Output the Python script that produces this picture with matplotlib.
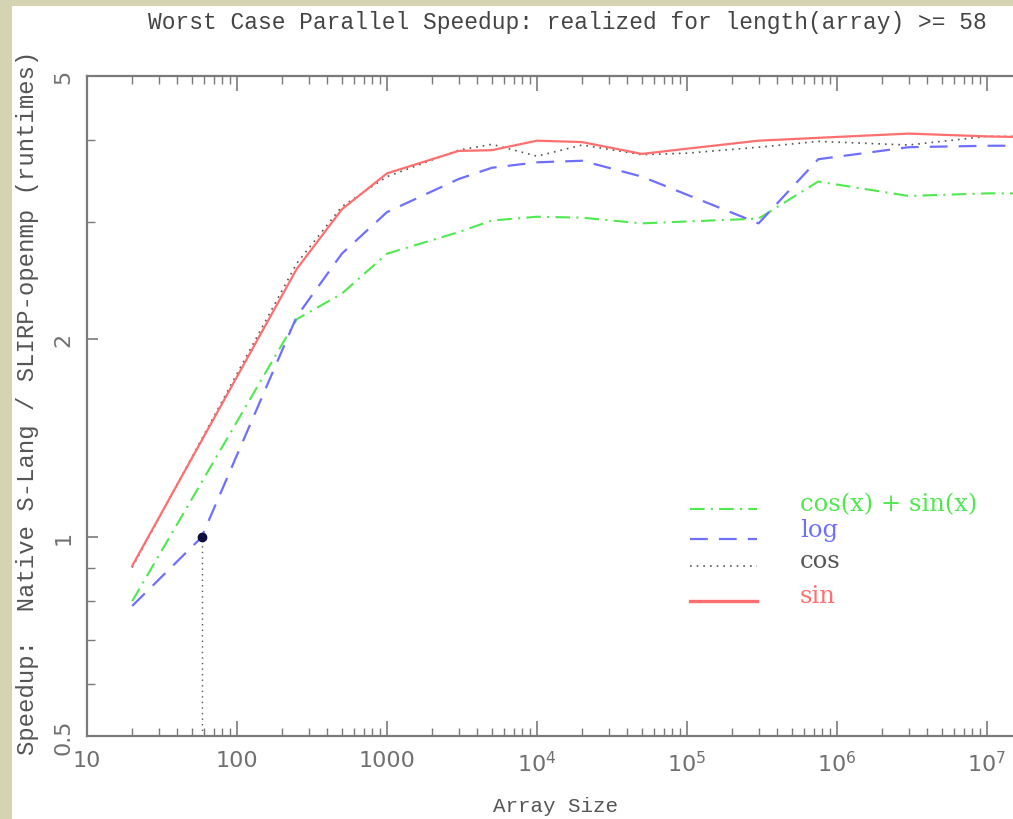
import matplotlib
matplotlib.use("Agg")
import math
import matplotlib.pyplot as plt
from matplotlib.patches import Rectangle
from matplotlib.lines import Line2D
from matplotlib.ticker import FixedLocator, NullFormatter, FuncFormatter

# ---------------- data ----------------
x_common = [20, 250, 500, 1000, 3000, 5000, 1e4, 2e4, 5e4, 1e5, 3e5, 7.5e5, 3e6, 1e7, 3e7]
sin_vals = [0.905, 2.55, 3.14, 3.56, 3.85, 3.86, 3.99, 3.97, 3.81, 3.88, 3.99, 4.03, 4.09, 4.05, 4.03]
cos_vals = [0.90, 2.60, 3.17, 3.52, 3.86, 3.94, 3.78, 3.93, 3.80, 3.82, 3.90, 3.98, 3.93, 4.05, 4.05]
log_x = [20, 58, 250, 500, 1000, 3000, 5000, 1e4, 2e4, 5e4, 3e5, 7.5e5, 3e6, 1e7, 3e7]
log_vals = [0.787, 1.00, 2.16, 2.69, 3.11, 3.49, 3.63, 3.70, 3.72, 3.52, 2.99, 3.74, 3.90, 3.92, 3.92]
cs_vals = [0.80, 2.14, 2.34, 2.69, 2.90, 3.02, 3.06, 3.05, 2.99, 3.01, 3.04, 3.46, 3.29, 3.32, 3.32]

crossover_x = 58
crossover_y = 1.0

series_labels = ["cos(x) + sin(x)", "log", "cos", "sin"]
title = "Worst Case Parallel Speedup: realized for length(array) >= 58"
xlabel = "Array Size"
ylabel = "Speedup:  Native S-Lang / SLIRP-openmp (runtimes)"

y_major = [0.5, 1, 2, 5]
y_minor = [0.6, 0.7, 0.8, 0.9, 3, 4]

# ---------------- styles ----------------
C_RED = "#ff6f6f"
C_BLUE = "#6f6fff"
C_GREEN = "#4fe84f"
C_BLACK = "#555555"
C_AXIS = "#7a7a7a"
C_TICKLBL = "#707070"
MONO = ["Liberation Mono", "DejaVu Sans Mono"]
SERIF = ["DejaVu Serif", "Liberation Serif"]

W, H = 1013, 820
fig = plt.figure(figsize=(W / 100, H / 100), dpi=100, facecolor="#d4d3b2")
# white page area
fig.patches.append(Rectangle((12 / W, 0), 1, 1 - 7 / H, transform=fig.transFigure,
                             facecolor="white", edgecolor="none", zorder=-10))

ax_left = 87 / W
ax_bottom = (H - 737) / H
ax_height = (737 - 77) / H
xmin, xmax = 10, 3e7
decade_px = 150.0
ax_width = decade_px * math.log10(xmax / xmin) / W
ax = fig.add_axes([ax_left, ax_bottom, ax_width, ax_height])
ax.set_zorder(2)
ax.set_facecolor("white")
ax.set_xscale("log")
ax.set_yscale("log")
ax.set_xlim(xmin, xmax)
ax.set_ylim(0.5, 5)

# lines
ax.plot(x_common, cs_vals, color=C_GREEN, lw=1.5, linestyle=(0, (7, 3, 1, 3)))
ax.plot(log_x, log_vals, color=C_BLUE, lw=1.6, linestyle=(0, (8, 5)))
ax.plot(x_common, cos_vals, color=C_BLACK, lw=1.2, linestyle=(0, (1, 3)))
ax.plot(x_common, sin_vals, color=C_RED, lw=1.6, linestyle="-")

# crossover marker & drop line
ax.plot([crossover_x, crossover_x], [0.5, crossover_y], color="#555555", lw=1.0,
        linestyle=(0, (1, 3)))
ax.plot([crossover_x], [crossover_y], marker="o", color="#101040", markersize=6)

# spines / ticks
for s in ["left", "bottom", "top"]:
    ax.spines[s].set_color(C_AXIS)
    ax.spines[s].set_linewidth(1.6)
ax.spines["right"].set_visible(False)

ax.yaxis.set_major_locator(FixedLocator(y_major))
ax.yaxis.set_minor_locator(FixedLocator(y_minor))
ax.yaxis.set_minor_formatter(NullFormatter())
ax.yaxis.set_major_formatter(FuncFormatter(lambda v, p: ("%g" % v)))


def xfmt(v, p):
    e = int(round(math.log10(v)))
    if e <= 3:
        return "%d" % int(round(v))
    return r"$\mathregular{10^{%d}}$" % e


ax.xaxis.set_major_formatter(FuncFormatter(xfmt))
ax.xaxis.set_minor_formatter(NullFormatter())

ax.tick_params(axis="x", which="both", direction="in", top=True, bottom=True,
               color=C_AXIS, labelcolor=C_TICKLBL, labelsize=16, pad=10)
ax.tick_params(axis="x", which="major", length=11, width=1.2)
ax.tick_params(axis="x", which="minor", length=6, width=1.0)
ax.tick_params(axis="y", which="both", direction="in", left=True, right=False,
               color=C_AXIS, labelcolor=C_TICKLBL, labelsize=16, pad=10)
ax.tick_params(axis="y", which="major", length=8, width=1.2)
ax.tick_params(axis="y", which="minor", length=6, width=1.0)
for lbl in ax.get_yticklabels():
    lbl.set_rotation(90)
    lbl.set_va("center")

fig.text(555 / W, 1 - 807 / H, xlabel, ha="center", va="center",
         family=MONO, fontsize=15, color="#555555")
fig.text(28 / W, 1 - 403 / H, ylabel, rotation=90, ha="center", va="center",
         family=MONO, fontsize=17.2, color="#555555")
fig.text(567 / W, 1 - 22 / H, title, ha="center", va="center",
         family=MONO, fontsize=16.5, color="#444444")

# legend (manual)
leg_rows = [
    (510, C_GREEN, (0, (7, 3, 1, 3)), 1.5, series_labels[0], C_GREEN, 505),
    (540, C_BLUE, (0, (8, 5)), 1.6, series_labels[1], C_BLUE, 531),
    (567, C_BLACK, (0, (1, 3)), 1.2, series_labels[2], "#555555", 562),
    (602, C_RED, "-", 2.4, series_labels[3], C_RED, 597),
]
for ly, lc, ls, lw, txt, tc, ty in leg_rows:
    fig.add_artist(Line2D([690 / W, 757 / W], [1 - ly / H, 1 - ly / H], color=lc,
                          linestyle=ls, lw=lw, transform=fig.transFigure, zorder=5))
    fig.text(800 / W, 1 - ty / H, txt, color=tc, family=SERIF, fontsize=17.5,
             ha="left", va="center", zorder=5)

fig.savefig("out.png", dpi=100, facecolor=fig.get_facecolor())
